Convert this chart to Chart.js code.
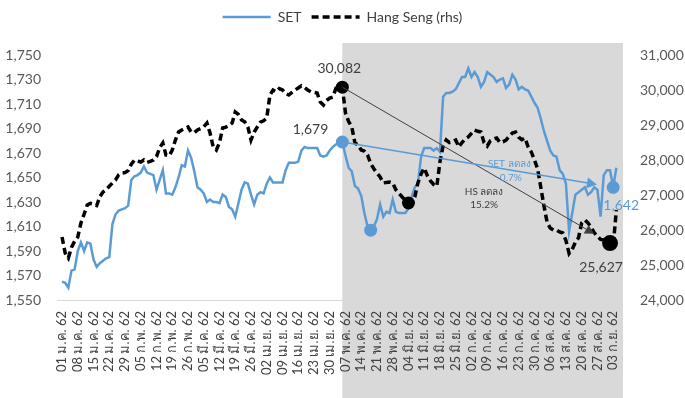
<!DOCTYPE html>
<html>
<head>
<meta charset="utf-8">
<script src="https://cdn.jsdelivr.net/npm/chart.js@4.4.1/dist/chart.umd.min.js"></script>
<style>
  body { margin: 0; background: #fff; }
  #wrap { width: 685px; height: 398px; }
</style>
</head>
<body>
<div id="wrap"><canvas id="setChart"></canvas></div>
<script>
// weekly tick labels (every 5th trading day)
const weekLabels = [
  '01 ม.ค. 62', '08 ม.ค. 62', '15 ม.ค. 62', '22 ม.ค. 62', '29 ม.ค. 62',
  '05 ก.พ. 62', '12 ก.พ. 62', '19 ก.พ. 62', '26 ก.พ. 62',
  '05 มี.ค. 62', '12 มี.ค. 62', '19 มี.ค. 62', '26 มี.ค. 62',
  '02 เม.ย. 62', '09 เม.ย. 62', '16 เม.ย. 62', '23 เม.ย. 62', '30 เม.ย. 62',
  '07 พ.ค. 62', '14 พ.ค. 62', '21 พ.ค. 62', '28 พ.ค. 62',
  '04 มิ.ย. 62', '11 มิ.ย. 62', '18 มิ.ย. 62', '25 มิ.ย. 62',
  '02 ก.ค. 62', '09 ก.ค. 62', '16 ก.ค. 62', '23 ก.ค. 62', '30 ก.ค. 62',
  '06 ส.ค. 62', '13 ส.ค. 62', '20 ส.ค. 62', '27 ส.ค. 62',
  '03 ก.ย. 62'
]

const setValues = [
  1565, 1564, 1560, 1574, 1575,
  1590, 1597, 1590, 1597, 1596,
  1583, 1577, 1580, 1582, 1584,
  1585, 1612, 1620, 1623, 1624,
  1625, 1627, 1648, 1651, 1652,
  1654, 1659, 1654, 1653, 1652,
  1640, 1648, 1656, 1637, 1637,
  1636, 1642, 1650, 1660, 1659,
  1672, 1666, 1655, 1642, 1640,
  1637, 1630, 1632, 1630, 1630,
  1629, 1636, 1634, 1626, 1624,
  1618, 1629, 1640, 1646, 1645,
  1636, 1628, 1636, 1638, 1637,
  1645, 1650, 1646, 1646, 1646,
  1646, 1656, 1662, 1662, 1662,
  1663, 1672, 1675, 1674, 1674,
  1674, 1674, 1668, 1667, 1668,
  1672, 1675, 1677, 1678, 1679,
  1668, 1658, 1655, 1643, 1641,
  1635, 1621, 1610, 1607, 1610,
  1616, 1628, 1618, 1622, 1621,
  1632, 1622, 1621, 1621, 1621,
  1625, 1634, 1642, 1645, 1667,
  1674, 1674, 1674, 1672, 1674,
  1671, 1716, 1719, 1719, 1720,
  1722, 1727, 1732, 1732, 1739,
  1732, 1736, 1732, 1724, 1728,
  1736, 1734, 1732, 1728, 1730,
  1731, 1723, 1726, 1734, 1730,
  1722, 1724, 1722, 1721, 1716,
  1711, 1707, 1698, 1688, 1680,
  1672, 1668, 1667, 1656, 1653,
  1645, 1606, 1621, 1636, 1638,
  1640, 1642, 1636, 1638, 1642,
  1640, 1618, 1652, 1656, 1656,
  1642, 1658
]

const hsValues = [
  25800, 25343, 25200, 25500, 25680,
  25800, 26200, 26450, 26714, 26760,
  26740, 26700, 26950, 27086, 27150,
  27250, 27343, 27429, 27580, 27629,
  27640, 27700, 27880, 28000, 27970,
  27943, 28000, 27930, 27960, 28000,
  28100, 28350, 28486, 28143, 28120,
  28286, 28571, 28800, 28857, 28900,
  28943, 28800, 28780, 28860, 28900,
  28950, 29057, 28771, 28371, 28286,
  28500, 28914, 28940, 28980, 29057,
  29371, 29300, 29143, 29090, 28943,
  28571, 28800, 28943, 29080, 29120,
  29200, 29850, 30000, 29950, 30040,
  30000, 29900, 29857, 29930, 30000,
  30057, 30120, 30070, 30000, 29950,
  29930, 29914, 29657, 29571, 29700,
  29771, 29800, 30057, 30100, 30082,
  29343, 29100, 28943, 28486, 28429,
  28286, 28250, 28143, 27900, 27750,
  27629, 27514, 27343, 27360, 27371,
  27343, 27150, 27050, 26943, 26850,
  26771, 26800, 26943, 27343, 27600,
  27771, 27550, 27400, 27300, 27250,
  27950, 28400, 28571, 28500, 28530,
  28571, 28371, 28500, 28600, 28657,
  28760, 28857, 28820, 28800, 28500,
  28400, 28550, 28600, 28629, 28500,
  28520, 28571, 28680, 28771, 28800,
  28650, 28580, 28629, 28371, 28230,
  28000, 27750, 27229, 26700, 26229,
  26057, 26000, 26000, 25943, 25914,
  25700, 25330, 25450, 25650, 25780,
  26200, 26286, 26200, 26080, 25920,
  25820, 25730, 25714, 25760, 25627,
  25527, 26571
]

// highlighted points: start, low, end
const setMarks = [89, 98, 175]
const hsMarks = [89, 110, 174]
const setNote = ['SET ลดลง', '0.7%']
const hsNote = ['HS ลดลง', '15.2%']

const FONT = 'Lato, "Noto Sans", sans-serif'
const BLUE = '#5b9bd5'
const GREY_TXT = '#404040'

const fmt = v => Math.round(v).toLocaleString('en-US')

const drawArrow = (ctx, x1, y1, x2, y2, color, width, head) => {
  const a = Math.atan2(y2 - y1, x2 - x1)
  ctx.save()
  ctx.strokeStyle = color
  ctx.fillStyle = color
  ctx.lineWidth = width
  ctx.beginPath()
  ctx.moveTo(x1, y1)
  ctx.lineTo(x2 - Math.cos(a) * head * 0.6, y2 - Math.sin(a) * head * 0.6)
  ctx.stroke()
  ctx.beginPath()
  ctx.moveTo(x2, y2)
  ctx.lineTo(x2 - head * Math.cos(a) + head * 0.55 * Math.sin(a), y2 - head * Math.sin(a) - head * 0.55 * Math.cos(a))
  ctx.lineTo(x2 - head * Math.cos(a) - head * 0.55 * Math.sin(a), y2 - head * Math.sin(a) + head * 0.55 * Math.cos(a))
  ctx.closePath()
  ctx.fill()
  ctx.restore()
}

const shade = {
  id: 'shade',
  beforeDraw(chart) {
    const { ctx, chartArea } = chart
    const x0 = chart.scales.x.getPixelForValue(setMarks[0])
    ctx.save()
    ctx.fillStyle = '#d9d9d9'
    ctx.fillRect(x0, chartArea.top - 12, chartArea.right + 1 - x0, chart.height - chartArea.top + 12)
    ctx.restore()
  }
}

const legendSpace = {
  id: 'legendSpace',
  beforeLayout(chart) {
    const lg = chart.legend
    if (lg && !lg._patched) {
      const fit = lg.fit
      lg.fit = function () { fit.call(this); this.height = 55 }
      lg._patched = true
    }
  }
}

const notes = {
  id: 'notes',
  afterDatasetsDraw(chart) {
    const { ctx } = chart
    const sp = chart.getDatasetMeta(0).data
    const hp = chart.getDatasetMeta(1).data
    const s0 = sp[setMarks[0]], s1 = sp[setMarks[2]]
    const h0 = hp[hsMarks[0]], h1 = hp[hsMarks[2]]
    const t = 0.94

    drawArrow(ctx, h0.x, h0.y, h0.x + (h1.x - h0.x) * t, h0.y + (h1.y - h0.y) * t, '#404040', 1, 9)
    drawArrow(ctx, s0.x, s0.y, s0.x + (s1.x - s0.x) * t, s0.y + (s1.y - s0.y) * t, BLUE, 1.5, 10)

    ctx.save()
    ctx.font = '14px ' + FONT
    ctx.textBaseline = 'middle'
    ctx.fillStyle = GREY_TXT
    ctx.textAlign = 'center'
    ctx.fillText(fmt(hsValues[hsMarks[0]]), h0.x - 3, h0.y - 19)
    ctx.fillText(fmt(hsValues[hsMarks[2]]), h1.x - 9, h1.y + 24)
    ctx.textAlign = 'right'
    ctx.fillText(fmt(setValues[setMarks[0]]), s0.x - 14, s0.y - 12)
    ctx.fillStyle = BLUE
    ctx.textAlign = 'center'
    ctx.fillText(fmt(setValues[setMarks[2]]), s1.x + 8, s1.y + 18)

    const x = chart.scales.x, yl = chart.scales.y, yr = chart.scales.y1
    ctx.font = '10px ' + FONT
    ctx.fillStyle = BLUE
    ctx.fillText(setNote[0], x.getPixelForValue(142), yl.getPixelForValue(1661))
    ctx.fillText(setNote[1], x.getPixelForValue(142.5), yl.getPixelForValue(1650))
    ctx.fillStyle = GREY_TXT
    ctx.fillText(hsNote[0], x.getPixelForValue(134), yr.getPixelForValue(27086))
    ctx.fillText(hsNote[1], x.getPixelForValue(134), yr.getPixelForValue(26714))
    ctx.restore()
  }
}

const config = {
  type: 'line',
  data: {
    datasets: [{
      label: 'SET',
      data: setValues.map((v, i) => ({ x: i, y: v })),
      yAxisID: 'y',
      borderColor: BLUE,
      backgroundColor: BLUE,
      borderWidth: 2.5,
      pointRadius: ctx => setMarks.includes(ctx.dataIndex) ? 6.5 : 0,
      pointBorderWidth: 0,
      tension: 0,
      order: 1
    }, {
      label: 'Hang Seng (rhs)',
      data: hsValues.map((v, i) => ({ x: i, y: v })),
      yAxisID: 'y1',
      borderColor: '#000',
      backgroundColor: '#000',
      borderWidth: 3.5,
      borderDash: [7, 4],
      pointRadius: ctx => ctx.dataIndex === hsMarks[2] ? 8 : (hsMarks.includes(ctx.dataIndex) ? 6.5 : 0),
      pointBorderWidth: 0,
      tension: 0,
      order: 0
    }]
  },
  options: {
    responsive: true,
    maintainAspectRatio: false,
    animation: false,
    layout: { padding: 0 },
    scales: {
      x: {
        type: 'linear',
        min: -1.6,
        max: 177.8,
        afterBuildTicks: scale => { scale.ticks = weekLabels.map((_, k) => ({ value: k * 5 })) },
        afterFit: scale => { scale.height = 98 },
        grid: { display: false },
        border: { display: true, color: '#d9d9d9', width: 1 },
        ticks: {
          autoSkip: false,
          minRotation: 90,
          maxRotation: 90,
          padding: 3,
          color: GREY_TXT,
          font: { family: FONT, size: 13 },
          callback: v => weekLabels[Math.round(v / 5)]
        }
      },
      y: {
        position: 'left',
        min: 1550,
        max: 1750,
        afterFit: scale => { scale.width = 57 },
        grid: { display: false },
        border: { display: false },
        ticks: {
          stepSize: 20,
          padding: 8,
          color: '#595959',
          font: { family: FONT, size: 14 },
          callback: v => fmt(v)
        }
      },
      y1: {
        position: 'right',
        min: 24000,
        max: 31000,
        afterFit: scale => { scale.width = 63 },
        grid: { display: false },
        border: { display: false },
        ticks: {
          stepSize: 1000,
          padding: 10,
          color: '#595959',
          font: { family: FONT, size: 14 },
          callback: v => fmt(v)
        }
      }
    },
    plugins: {
      legend: {
        position: 'top',
        labels: {
          usePointStyle: true,
          pointStyleWidth: 48,
          padding: 10,
          color: GREY_TXT,
          font: { family: FONT, size: 14 },
          generateLabels: chart => Chart.defaults.plugins.legend.labels.generateLabels(chart).map(item => {
            const ds = chart.data.datasets[item.datasetIndex]
            return { ...item, pointStyle: 'line', lineWidth: ds.borderWidth, lineDash: ds.borderDash || [], strokeStyle: ds.borderColor }
          }),
          sort: (a, b) => a.datasetIndex - b.datasetIndex
        }
      },
      tooltip: { enabled: false }
    }
  },
  plugins: [shade, legendSpace, notes]
}

const ctx = document.getElementById('setChart').getContext('2d')
const setChart = new Chart(ctx, config)
</script>
</body>
</html>
